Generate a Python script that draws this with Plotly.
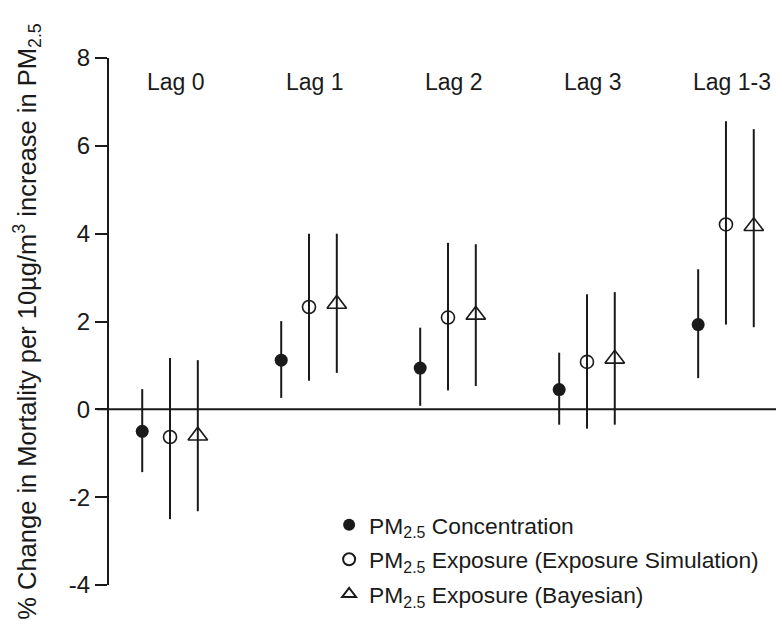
import plotly.graph_objects as go

categories = ["Lag 0", "Lag 1", "Lag 2", "Lag 3", "Lag 1-3"]

conc = [-0.50, 1.12, 0.94, 0.45, 1.93]
conc_hi = [0.46, 2.01, 1.86, 1.29, 3.19]
conc_lo = [-1.43, 0.26, 0.08, -0.35, 0.71]

sim = [-0.63, 2.33, 2.09, 1.08, 4.21]
sim_hi = [1.17, 4.00, 3.79, 2.62, 6.56]
sim_lo = [-2.50, 0.65, 0.43, -0.44, 1.93]

bay = [-0.60, 2.40, 2.15, 1.15, 4.17]
bay_hi = [1.12, 4.00, 3.76, 2.67, 6.38]
bay_lo = [-2.32, 0.83, 0.53, -0.35, 1.87]

series_names = [
    "PM<sub>2.5</sub> Concentration",
    "PM<sub>2.5</sub> Exposure (Exposure Simulation)",
    "PM<sub>2.5</sub> Exposure (Bayesian)",
]
y_ticks = [-4, -2, 0, 2, 4, 6, 8]

FONT = "Liberation Sans, Arial, Helvetica, sans-serif"
INK = "#1a1a1a"

fig = go.Figure()

specs = [
    (conc, conc_hi, conc_lo, -0.2, "circle", 13, 0),
    (sim, sim_hi, sim_lo, 0.0, "circle-open", 13, 1.6),
    (bay, bay_hi, bay_lo, 0.2, "triangle-up-open", 17, 1.6),
]
xs = list(range(len(categories)))
for i, (vals, hi, lo, off, sym, size, lw) in enumerate(specs):
    fig.add_trace(go.Scatter(
        x=[x + off for x in xs],
        y=vals,
        mode="markers",
        name=series_names[i],
        legendgroup=f"g{i}",
        marker=dict(symbol=sym, size=size, color=INK,
                    line=dict(color=INK, width=lw)),
        error_y=dict(type="data", symmetric=False,
                     array=[h - v for h, v in zip(hi, vals)],
                     arrayminus=[v - l for v, l in zip(vals, lo)],
                     color=INK, thickness=2, width=0),
    ))

for i, c in enumerate(categories):
    fig.add_annotation(x=xs[i] + 0.04, y=7.45, text=c, showarrow=False,
                       xref="x", yref="y", xanchor="center", yanchor="middle",
                       font=dict(size=23, color=INK, family=FONT))

fig.add_shape(type="line", xref="paper", yref="y", x0=-0.018, x1=1, y0=0, y1=0,
              line=dict(color=INK, width=2))

fig.update_layout(
    width=776, height=641,
    margin=dict(l=109, r=0, t=58, b=56),
    paper_bgcolor="white", plot_bgcolor="white",
    font=dict(family=FONT, color=INK),
    showlegend=True,
    legend=dict(x=0.33, y=0.155, xanchor="left", yanchor="top",
                font=dict(size=22.8, color=INK, family=FONT),
                itemsizing="constant", tracegroupgap=2,
                traceorder="grouped", bgcolor="rgba(0,0,0,0)"),
    xaxis=dict(range=[-0.439, 4.36], visible=False, showgrid=False, zeroline=False),
    yaxis=dict(range=[-4, 8], tickvals=y_ticks, ticktext=[str(t) for t in y_ticks],
               showgrid=False, zeroline=False, showline=True, linecolor=INK, linewidth=2,
               ticks="outside", ticklen=12, tickwidth=2, tickcolor=INK,
               tickfont=dict(size=24, color=INK, family=FONT),
               title=dict(text="% Change in Mortality per 10µg/m<sup>3</sup> increase in PM<sub>2.5</sub>",
                          font=dict(size=25.5, color=INK, family=FONT), standoff=25)),
)

fig.write_html("out.html", config={"displayModeBar": False},
               post_script="document.body.style.margin='0';document.body.style.overflow='hidden';")
